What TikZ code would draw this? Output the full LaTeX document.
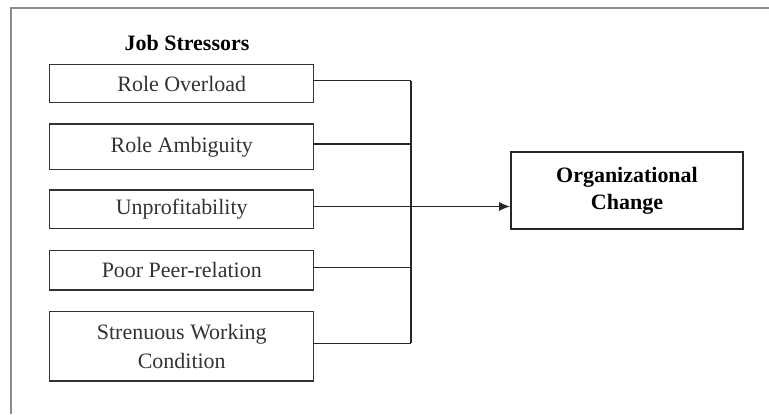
\documentclass[tikz,border=0pt]{standalone}
\usepackage{fontspec}
\setmainfont{Liberation Serif}
\usetikzlibrary{arrows.meta, positioning, calc}
\definecolor{framegray}{HTML}{8C8C8C}
\definecolor{textgray}{HTML}{333333}

\begin{document}
\begin{tikzpicture}[
    font=\fontsize{12.5}{17}\selectfont,
    stressor/.style={draw=black!80, line width=0.85pt, align=center, text=textgray, minimum width=5.28cm, inner sep=2pt},
    outcome/.style={draw=black!85, line width=1.1pt, align=center, font=\fontsize{12.5}{15.3}\selectfont\bfseries, minimum width=4.64cm, minimum height=1.54cm},
    link/.style={draw=black!85, line width=0.6pt},
    arrow/.style={link, -{Latex[length=2.2mm, width=1.8mm]}}
]
\useasboundingbox (0,0) rectangle (15.38,-8.28);

% frame
\draw[framegray, line width=0.9pt] (0.22,-8.28) -- (0.22,-0.16) -- (15.38,-0.16);

\node[font=\fontsize{12.5}{15}\selectfont\bfseries] (title) at (3.74,-0.86) {Job Stressors};

\node[stressor, minimum height=0.75cm, anchor=north west] (overload) at (0.98,-1.28) {Role Overload};
\node[stressor, minimum height=0.91cm, below=0.41cm of overload] (ambiguity) {Role Ambiguity};
\node[stressor, minimum height=0.77cm, below=0.38cm of ambiguity] (unprofit) {Unprofitability};
\node[stressor, minimum height=0.79cm, below=0.41cm of unprofit] (peer) {Poor Peer-relation};
\node[stressor, minimum height=1.39cm, below=0.40cm of peer] (strenuous) {Strenuous Working\\Condition};

\node[outcome] (change) at (12.54,-3.81) {Organizational\\Change};

% collector line
\coordinate (bus) at (8.22,0);
\foreach \n in {overload, ambiguity, unprofit, peer, strenuous}
    \draw[link] ([yshift=1.7pt]\n.east) -- ([yshift=1.7pt]\n.east -| bus);
\draw[link] ([yshift=1.7pt]overload.east -| bus) -- ([yshift=1.7pt]strenuous.east -| bus);

\draw[arrow] ([yshift=1.7pt]unprofit.east -| bus) -- ([yshift=1.7pt]unprofit.east -| change.west);
\end{tikzpicture}
\end{document}
